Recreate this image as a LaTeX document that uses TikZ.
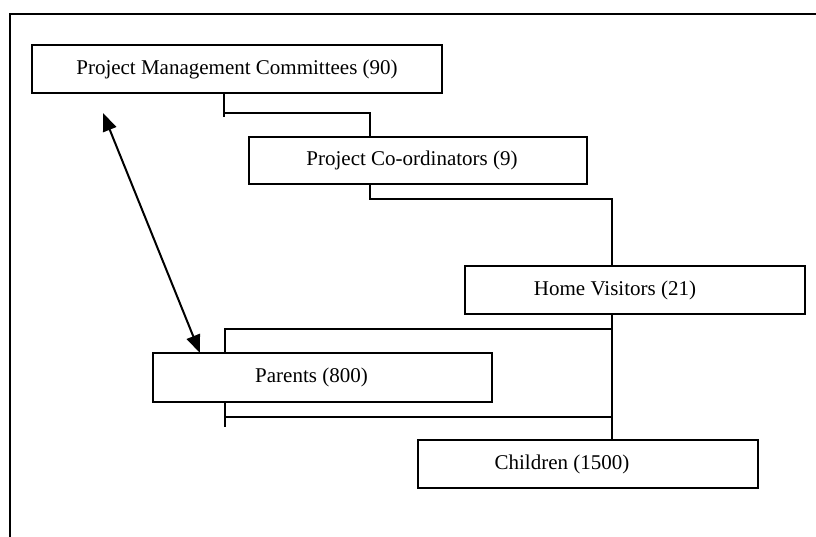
\documentclass[tikz,border=0pt]{standalone}
\usepackage{fontspec}
\setmainfont{Liberation Serif}
\usetikzlibrary{arrows.meta}
\begin{document}
\begin{tikzpicture}[x=1pt,y=-1pt,
  stepbox/.style={draw, line width=1.6pt, inner sep=0pt, minimum height=48pt},
  link/.style={line width=1.6pt},
  relation/.style={line width=2pt, {Triangle[length=18pt,width=14pt]}-{Triangle[length=18pt,width=14pt]}},
  caption/.style={font=\fontsize{21}{25}\selectfont, inner sep=0pt}]
\useasboundingbox (0,0) rectangle (816,537);

% frame
\draw[line width=1.6pt] (10,537) -- (10,14) -- (816,14);

% boxes
\node[stepbox, minimum width=410pt] (pmc) at (237,69) {};
\node[stepbox, minimum width=338pt, minimum height=47pt] (pc) at (418,160.5) {};
\node[stepbox, minimum width=340pt] (hv) at (635,290) {};
\node[stepbox, minimum width=339pt, minimum height=49pt] (par) at (322.5,377.5) {};
\node[stepbox, minimum width=340pt] (ch) at (588,464) {};

% labels
\node[caption] (tpmc) at (pmc.center) {Project Management Committees (90)};
\node[caption] (tpc) at ([xshift=-6pt]pc.center) {Project Co-ordinators (9)};
\node[caption] (thv) at ([xshift=-20pt]hv.center) {Home Visitors (21)};
\node[caption] (tpar) at ([xshift=-11pt]par.center) {Parents (800)};
\node[caption] (tch) at ([xshift=-26pt]ch.center) {Children (1500)};

% junction points
\coordinate (t1) at (224,117);
\coordinate (b1) at (370,113);
\coordinate (b2) at (370,199);
\coordinate (b3) at (612,199);
\coordinate (b4) at (225,329);
\coordinate (b5) at (225,427);
\coordinate (b6) at (225,417);

% committees -> co-ordinators
\draw[link] (pmc.south -| t1) -- (t1);
\draw[link] (t1 |- b1) -- (b1) -- (b1 |- pc.north);
% co-ordinators -> home visitors
\draw[link] (b2 |- pc.south) -- (b2) -- (b3) -- (b3 |- hv.north);
% home visitors -> children
\draw[link] (b3 |- hv.south) -- (b3 |- ch.north);
% home visitors -> parents
\draw[link] (b3 |- b4) -- (b4) -- (b4 |- par.north);
% parents -> children line
\draw[link] (b5 |- par.south) -- (b5);
\draw[link] (b6) -- (b6 -| b3);

% two-way link between committees and parents
\coordinate (a1) at (103,113);
\coordinate (a2) at (200,353);
\draw[relation] (a1) -- (a2);
\end{tikzpicture}
\end{document}
